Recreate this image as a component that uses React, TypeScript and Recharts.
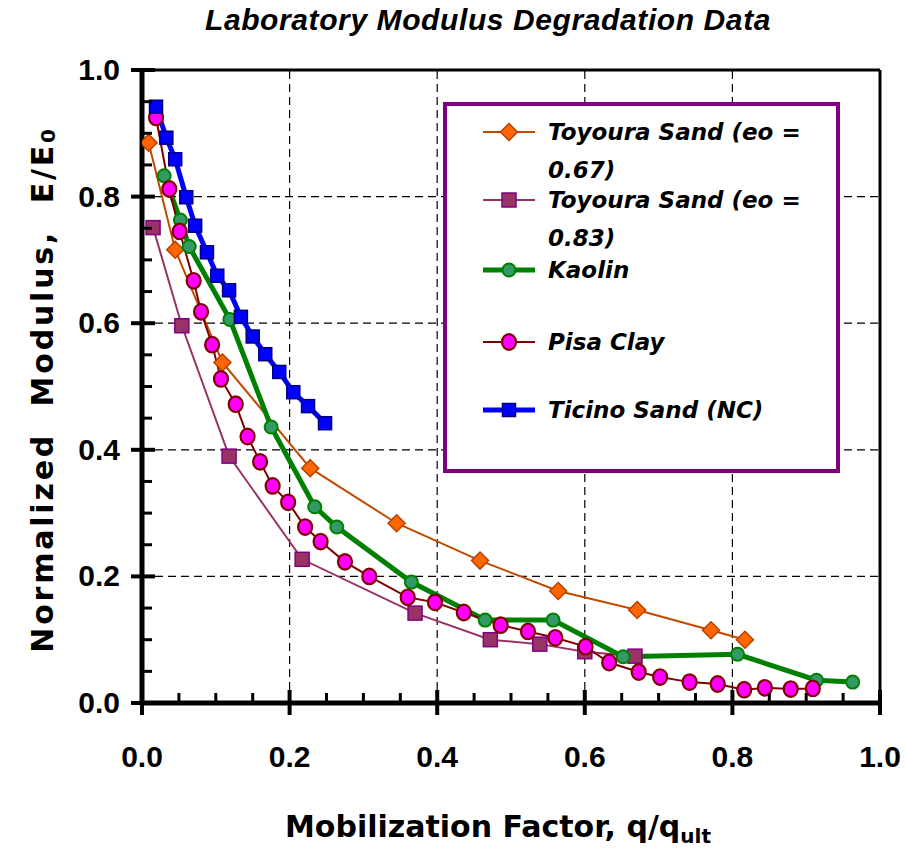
import React from 'react';
import { LineChart, Line, XAxis, YAxis, ReferenceLine, Legend, Label } from 'recharts';

// ---- data ----
const toy067X = [0.009, 0.045, 0.109, 0.228, 0.345, 0.458, 0.564, 0.671, 0.771, 0.817];
const toy067Y = [0.885, 0.716, 0.538, 0.371, 0.284, 0.225, 0.177, 0.147, 0.115, 0.1];

const toy083X = [0.015, 0.054, 0.118, 0.217, 0.37, 0.472, 0.539, 0.6, 0.668];
const toy083Y = [0.751, 0.596, 0.39, 0.227, 0.142, 0.1, 0.093, 0.081, 0.074];

const kaolinX = [0.03, 0.052, 0.064, 0.119, 0.175, 0.234, 0.264, 0.365, 0.465, 0.557, 0.652, 0.807, 0.914, 0.963];
const kaolinY = [0.833, 0.763, 0.721, 0.606, 0.436, 0.31, 0.278, 0.191, 0.131, 0.131, 0.073, 0.077, 0.036, 0.033];

const pisaX = [0.019, 0.037, 0.051, 0.07, 0.08, 0.095, 0.107, 0.127, 0.143, 0.16, 0.177, 0.198, 0.221, 0.242, 0.275, 0.308, 0.36, 0.397, 0.436, 0.486, 0.523, 0.56, 0.601, 0.633, 0.673, 0.702, 0.742, 0.78, 0.816, 0.844, 0.879, 0.909];
const pisaY = [0.925, 0.812, 0.745, 0.667, 0.618, 0.566, 0.512, 0.472, 0.421, 0.381, 0.343, 0.317, 0.278, 0.255, 0.223, 0.2, 0.167, 0.159, 0.143, 0.123, 0.113, 0.103, 0.089, 0.064, 0.049, 0.041, 0.033, 0.03, 0.021, 0.024, 0.022, 0.023];

const ticinoX = [0.019, 0.033, 0.045, 0.06, 0.072, 0.088, 0.102, 0.118, 0.134, 0.15, 0.167, 0.186, 0.205, 0.225, 0.248];
const ticinoY = [0.942, 0.893, 0.859, 0.799, 0.754, 0.712, 0.675, 0.652, 0.61, 0.579, 0.551, 0.523, 0.491, 0.469, 0.442];

const seriesNames = ['Toyoura Sand (eo = 0.67)', 'Toyoura Sand (eo = 0.83)', 'Kaolin', 'Pisa Clay', 'Ticino Sand (NC)'];

const axisTicks = [0, 0.05, 0.1, 0.15, 0.2, 0.25, 0.3, 0.35, 0.4, 0.45, 0.5, 0.55, 0.6, 0.65, 0.7, 0.75, 0.8, 0.85, 0.9, 0.95, 1];
const majorTicks = [0, 0.2, 0.4, 0.6, 0.8, 1];
const gridValues = [0.2, 0.4, 0.6, 0.8];

const zip = (xs: number[], ys: number[]) => xs.map((x, i) => ({ x, y: ys[i] }));

type Style = { line: string; width: number; fill: string; stroke: string; shape: 'diamond' | 'square' | 'circle' | 'ellipse'; size: number };

const styles: Style[] = [
  { line: '#C04A00', width: 2, fill: '#FF6600', stroke: '#B84000', shape: 'diamond', size: 8.5 },
  { line: '#993366', width: 2, fill: '#993366', stroke: '#800080', shape: 'square', size: 7 },
  { line: '#008000', width: 5, fill: '#339966', stroke: '#008000', shape: 'circle', size: 6.5 },
  { line: '#800000', width: 2, fill: '#FF00FF', stroke: '#800000', shape: 'ellipse', size: 7 },
  { line: '#0000FF', width: 5, fill: '#0000FF', stroke: '#000080', shape: 'square', size: 6.5 },
];

const seriesData = [zip(toy067X, toy067Y), zip(toy083X, toy083Y), zip(kaolinX, kaolinY), zip(pisaX, pisaY), zip(ticinoX, ticinoY)];

const Marker = ({ cx, cy, st }: { cx: number; cy: number; st: Style }) => {
  const s = st.size;
  if (st.shape === 'diamond')
    return <polygon points={`${cx},${cy - s} ${cx + s},${cy} ${cx},${cy + s} ${cx - s},${cy}`} fill={st.fill} stroke={st.stroke} strokeWidth={1.5} />;
  if (st.shape === 'square')
    return <rect x={cx - s} y={cy - s} width={2 * s} height={2 * s} fill={st.fill} stroke={st.stroke} strokeWidth={1.5} />;
  if (st.shape === 'ellipse')
    return <ellipse cx={cx} cy={cy} rx={s} ry={s + 0.8} fill={st.fill} stroke={st.stroke} strokeWidth={2.2} />;
  return <circle cx={cx} cy={cy} r={s} fill={st.fill} stroke={st.stroke} strokeWidth={2} />;
};

const isMajor = (v: number) => majorTicks.some((m) => Math.abs(m - v) < 1e-6);

const XTick = (props: any) => {
  const { x, y, payload } = props;
  const v = payload.value as number;
  if (isMajor(v)) {
    return (
      <g>
        <line x1={x} x2={x} y1={y - 13} y2={y + 12} stroke="#000" strokeWidth={4} />
        <text x={x} y={y + 64} textAnchor="middle" fontFamily="Liberation Sans, Arial, sans-serif" fontWeight="bold" fontSize={30} fill="#000">
          {v.toFixed(1)}
        </text>
      </g>
    );
  }
  return <line x1={x} x2={x} y1={y} y2={y - 10} stroke="#000" strokeWidth={3} />;
};

const YTick = (props: any) => {
  const { x, y, payload } = props;
  const v = payload.value as number;
  if (isMajor(v)) {
    return (
      <g>
        <line x1={x - 11} x2={x + 13} y1={y} y2={y} stroke="#000" strokeWidth={4} />
        <text x={x - 22} y={y + 10} textAnchor="end" fontFamily="Liberation Sans, Arial, sans-serif" fontWeight="bold" fontSize={30} fill="#000">
          {v.toFixed(1)}
        </text>
      </g>
    );
  }
  return <line x1={x} x2={x + 10} y1={y} y2={y} stroke="#000" strokeWidth={3} />;
};

const titleFont = 'DejaVu Sans, Verdana, sans-serif';

const XTitle = (props: any) => {
  const { viewBox } = props;
  return (
    <text x={viewBox.x + 356} y={viewBox.y + 134} textAnchor="middle" fontFamily={titleFont} fontWeight="bold" fontSize={30} fill="#000">
      Mobilization Factor, q/q
      <tspan fontSize={20} dy={6}>ult</tspan>
    </text>
  );
};

const YTitle = (props: any) => {
  const { viewBox } = props;
  const cx = viewBox.x + viewBox.width - 100;
  const cy = viewBox.y + viewBox.height / 2 + 3;
  return (
    <text x={cx} y={cy} transform={`rotate(-90 ${cx} ${cy})`} textAnchor="middle" dominantBaseline="central" fontFamily={titleFont} fontWeight="bold" fontSize={30} letterSpacing={2.8} fill="#000" style={{ whiteSpace: 'pre' }}>
      {'Normalized  Modulus,  E/E'}
      <tspan fontSize={20} dy={6}>0</tspan>
    </text>
  );
};

const rowCenters = [26, 94, 164, 236, 304];

const LegendIcon = ({ st }: { st: Style }) => (
  <svg width={56} height={24} style={{ display: 'block' }}>
    <line x1={0} x2={52} y1={12} y2={12} stroke={st.line} strokeWidth={st.width} />
    <Marker cx={26} cy={12} st={st} />
  </svg>
);

const renderLegend = () => (
  <div style={{ position: 'relative', width: 397, height: 371, boxSizing: 'border-box', border: '4px solid #800080', background: '#fff' }}>
    {seriesNames.map((name, i) => (
      <div key={name} style={{ position: 'absolute', left: 36, top: rowCenters[i] - 19 }}>
        <div style={{ position: 'absolute', left: 0, top: 7 }}>
          <LegendIcon st={styles[i]} />
        </div>
        <div
          style={{
            position: 'absolute',
            left: 65,
            top: 0,
            width: 290,
            fontFamily: titleFont,
            fontStyle: 'italic',
            fontWeight: 'bold',
            fontSize: 23,
            lineHeight: '38px',
            color: '#000',
          }}
        >
          {name}
        </div>
      </div>
    ))}
  </div>
);

export default function App() {
  return (
    <div style={{ position: 'absolute', left: 0, top: 0, width: 906, height: 860, background: '#fff' }}>
      <div
        style={{
          position: 'absolute',
          left: 0,
          width: 976,
          top: 4,
          textAlign: 'center',
          fontFamily: '"Liberation Sans", Arial, sans-serif',
          fontWeight: 'bold',
          fontStyle: 'italic',
          fontSize: 30,
          lineHeight: '32px',
          letterSpacing: '0.6px',
          color: '#000',
          zIndex: 2,
        }}
      >
        Laboratory Modulus Degradation Data
      </div>
      <LineChart width={906} height={860} margin={{ top: 70, right: 26, bottom: 156, left: 141 }}>
        <XAxis
          type="number"
          dataKey="x"
          domain={[0, 1]}
          ticks={axisTicks}
          interval={0}
          height={1}
          tickSize={0}
          tickMargin={0}
          tickLine={false}
          tick={<XTick />}
          axisLine={{ stroke: '#000', strokeWidth: 5 }}
          allowDataOverflow
        >
          <Label content={<XTitle />} />
        </XAxis>
        <YAxis
          type="number"
          dataKey="y"
          domain={[0, 1]}
          ticks={axisTicks}
          interval={0}
          width={1}
          tickSize={0}
          tickMargin={0}
          tickLine={false}
          tick={<YTick />}
          axisLine={{ stroke: '#000', strokeWidth: 5 }}
          allowDataOverflow
        >
          <Label content={<YTitle />} />
        </YAxis>
        {gridValues.map((v) => (
          <ReferenceLine key={'gx' + v} x={v} stroke="#000" strokeWidth={1.2} strokeDasharray="8 5" />
        ))}
        {gridValues.map((v) => (
          <ReferenceLine key={'gy' + v} y={v} stroke="#000" strokeWidth={1.2} strokeDasharray="8 5" />
        ))}
        <ReferenceLine y={1} stroke="#000" strokeWidth={3} />
        <ReferenceLine x={1} stroke="#000" strokeWidth={3} />
        <Legend
          layout="vertical"
          align="center"
          verticalAlign="middle"
          content={renderLegend}
          wrapperStyle={{ left: 443, top: 102, width: 397, height: 371 }}
        />
        {seriesData.map((d, i) => (
          <Line
            key={seriesNames[i]}
            data={d}
            name={seriesNames[i]}
            dataKey="y"
            type="linear"
            stroke={styles[i].line}
            strokeWidth={styles[i].width}
            isAnimationActive={false}
            dot={(p: any) => <Marker key={'m' + i + '-' + p.index} cx={p.cx} cy={p.cy} st={styles[i]} />}
            activeDot={false}
          />
        ))}
      </LineChart>
    </div>
  );
}
